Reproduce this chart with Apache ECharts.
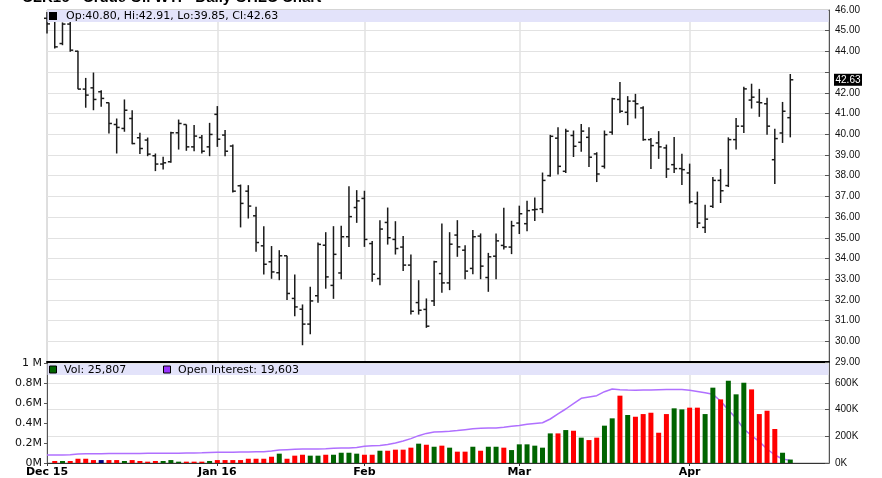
<!DOCTYPE html>
<html><head><meta charset="utf-8">
<script src="https://cdn.jsdelivr.net/npm/echarts@6/dist/echarts.min.js"></script>
<style>html,body{margin:0;padding:0;background:#fff}#c{width:882px;height:478px}</style>
</head><body><div id="c"></div><script>
const dates = [
'2015-12-01','2015-12-02','2015-12-03','2015-12-04','2015-12-07','2015-12-08','2015-12-09','2015-12-10','2015-12-11','2015-12-14','2015-12-15','2015-12-16','2015-12-17','2015-12-18','2015-12-21','2015-12-22','2015-12-23','2015-12-24','2015-12-28','2015-12-29','2015-12-30','2015-12-31',
'2016-01-04','2016-01-05','2016-01-06','2016-01-07','2016-01-08','2016-01-11','2016-01-12','2016-01-13','2016-01-14','2016-01-15','2016-01-19','2016-01-20','2016-01-21','2016-01-22','2016-01-25','2016-01-26','2016-01-27','2016-01-28','2016-01-29',
'2016-02-01','2016-02-02','2016-02-03','2016-02-04','2016-02-05','2016-02-08','2016-02-09','2016-02-10','2016-02-11','2016-02-12','2016-02-16','2016-02-17','2016-02-18','2016-02-19','2016-02-22','2016-02-23','2016-02-24','2016-02-25','2016-02-26','2016-02-29',
'2016-03-01','2016-03-02','2016-03-03','2016-03-04','2016-03-07','2016-03-08','2016-03-09','2016-03-10','2016-03-11','2016-03-14','2016-03-15','2016-03-16','2016-03-17','2016-03-18','2016-03-21','2016-03-22','2016-03-23','2016-03-24','2016-03-28','2016-03-29','2016-03-30','2016-03-31',
'2016-04-01','2016-04-04','2016-04-05','2016-04-06','2016-04-07','2016-04-08','2016-04-11','2016-04-12','2016-04-13','2016-04-14','2016-04-15','2016-04-18','2016-04-19','2016-04-20'];
const padDates = ['2016-04-21','2016-04-22','2016-04-25','2016-04-26','2016-04-27'];

const opens = [
45.6,45.5,44.38,45.32,44.01,42.18,42.24,42.05,41.52,40.47,40.28,40.76,39.83,39.72,38.96,38.56,38.67,40.07,40.47,39.39,39.84,39.39,
40.96,39.96,39.43,37.51,37.25,36.06,34.61,33.84,33.31,34.13,32.07,31.55,30.83,32.2,34.64,32.7,33.3,35.05,36.46,
36.9,34.72,33.03,35.74,34.92,34.55,33.68,31.87,31.54,31.95,33.27,32.82,35.13,34.4,33.52,35.08,33.08,34.11,34.63,34.55,
35.71,35.68,36.35,36.4,38.0,39.81,38.21,39.94,39.61,39.85,39.05,38.45,40.1,41.68,41.06,41.6,41.27,39.74,39.58,39.34,38.53,38.34,
38.13,36.65,35.5,36.52,37.77,37.52,39.74,40.39,41.65,41.55,41.47,38.77,40.06,40.80];
const highs = [
45.9,45.7,45.4,45.5,44.03,42.72,42.98,42.13,41.53,40.76,41.68,41.16,40.07,39.84,39.07,38.91,40.12,40.71,40.47,40.44,39.96,40.55,
41.36,40.2,39.51,37.57,37.54,36.5,35.56,34.6,34.4,34.13,33.23,31.78,32.63,34.77,35.27,35.56,35.58,37.49,37.3,
37.27,34.84,35.85,36.46,35.8,35.08,34.19,32.95,32.07,33.89,35.69,35.27,35.85,34.64,35.37,35.21,34.27,35.21,36.45,35.82,
36.55,36.79,36.95,38.15,39.97,40.34,40.27,40.18,40.5,40.34,39.13,40.18,41.76,42.52,41.84,41.95,41.35,39.82,40.15,39.5,39.87,39.06,
38.58,37.23,36.6,37.94,38.32,39.85,40.79,42.29,42.44,42.19,41.76,40.26,41.56,42.91];
const lows = [
44.87,44.14,44.3,43.98,42.17,41.28,41.16,41.33,40.04,39.07,40.12,39.52,39.04,38.94,38.22,38.3,38.62,39.26,39.2,39.18,39.07,38.94,
39.39,38.94,37.19,35.5,35.93,34.32,33.23,33.02,32.95,31.99,31.21,29.81,30.34,31.86,32.54,32.05,33.0,34.56,35.72,
34.56,32.87,32.71,34.67,34.19,33.39,31.29,31.29,30.65,31.71,32.34,32.47,34.08,33.0,33.24,33.0,32.39,33.0,34.43,34.21,
35.18,35.32,35.81,36.19,37.95,38.05,38.13,38.9,39.15,38.42,37.69,38.34,39.98,41.03,40.44,40.76,39.69,38.32,38.81,37.89,38.13,37.55,
36.65,35.47,35.23,36.44,36.68,37.45,39.26,40.06,41.24,40.84,39.98,37.6,39.58,39.85];
const closes = [
45.33,44.22,45.32,44.06,42.18,41.89,41.68,41.73,40.52,40.33,41.16,39.55,39.31,39.04,38.56,38.62,40.07,40.52,39.39,39.91,39.18,39.99,
39.76,39.18,37.25,36.66,36.53,34.77,33.72,33.35,34.13,32.31,31.66,30.83,31.95,34.68,33.11,34.2,35.05,36.02,36.78,
34.92,33.24,35.42,35.0,34.48,33.68,31.45,31.5,30.73,33.84,32.82,34.69,34.56,33.39,35.05,33.63,34.08,34.85,34.56,35.58,
36.16,36.31,36.37,37.77,39.9,38.45,40.15,39.42,40.15,38.89,38.08,39.98,41.71,41.11,41.6,41.47,39.74,39.45,39.39,38.32,38.34,38.29,
36.74,35.71,35.9,37.77,37.27,39.74,40.39,42.19,41.79,41.52,40.39,39.79,41.11,42.63];

const volumes = [
null,15000,15000,15000,32000,32000,22000,22000,22000,22000,15000,22000,15000,10000,15000,15000,22000,10000,10000,10000,10000,15000,
22000,22000,22000,22000,32000,32000,32000,47000,70000,32000,55000,62000,55000,55000,62000,62000,77000,77000,70000,
62000,62000,92000,92000,100000,100000,115000,145000,137000,122000,130000,115000,85000,85000,122000,92000,122000,122000,115000,97000,
140000,140000,130000,115000,222000,222000,247000,242000,190000,172000,190000,280000,335000,505000,360000,347000,367000,377000,227000,367000,410000,402000,
415000,415000,367000,565000,477000,617000,515000,602000,552000,367000,392000,255000,77000,25807];
const volDir = [
'd','d','u','d','d','d','d','n','d','d','u','d','d','d','d','u','u','u','d','d','d','u',
'd','d','d','d','d','d','d','d','u','d','d','d','u','u','d','u','u','u','u',
'd','d','u','d','d','d','d','u','d','u','d','u','d','d','u','d','u','u','d','u',
'u','u','u','u','u','d','u','d','u','d','d','u','u','d','u','d','d','d','d','d','u','u',
'd','d','u','u','d','u','u','u','d','d','d','d','u','u'];
const openInterest = [
60000,60000,60000,62000,67000,69000,70000,70000,71000,71000,72000,72000,72000,73000,73000,73000,74000,74000,75000,75000,76000,78000,
80000,80000,81000,82000,83000,84000,85000,90000,97000,100000,103000,105000,105000,105000,107000,110000,112000,113000,117000,
126000,130000,132000,138000,150000,165000,183000,205000,222000,232000,235000,238000,243000,250000,257000,260000,262000,263000,268000,275000,
282000,290000,297000,302000,330000,368000,405000,445000,485000,495000,505000,535000,555000,550000,547000,545000,547000,548000,550000,551000,552000,552000,
546000,537000,527000,515000,465000,397000,335000,255000,205000,160000,105000,60000,30000,19603];

const tickDates = ['2015-12-01','2016-01-04','2016-02-01','2016-03-01','2016-04-01'];
const tickLabels = ['Dec 15','Jan 16','Feb','Mar','Apr'];

const cats = dates.concat(padDates);
const last = dates.length - 1;
const dirColor = {u:'#006400', d:'#ff0000', n:'#000080'};
const isTick = (i, v) => tickDates.indexOf(v) >= 0;
const gridCol = '#e2e2e2';
const fnt = '"Liberation Sans", Arial, sans-serif';
const wfnt = '"DejaVu Sans", Verdana, sans-serif';

const chart = echarts.init(document.getElementById('c'), null, {renderer:'canvas'});
const ohlc = dates.map((d, i) => [i, opens[i], highs[i], lows[i], closes[i]]);

chart.setOption({
  animation: false,
  backgroundColor: '#fff',
  grid: [
    {left: 47, right: 53, top: 10, height: 352, show: true, borderColor: '#aaa', borderWidth: 1},
    {left: 47, right: 53, top: 363, height: 100, show: true, borderColor: '#aaa', borderWidth: 1}
  ],
  xAxis: [
    {type: 'category', gridIndex: 0, data: cats, boundaryGap: false,
     axisLine: {show: true, lineStyle: {color: '#000', width: 2}},
     axisTick: {show: false}, axisLabel: {show: false},
     splitLine: {show: true, interval: isTick, lineStyle: {color: gridCol, width: 1.5}}},
    {type: 'category', gridIndex: 1, data: cats, boundaryGap: false,
     axisLine: {show: true, lineStyle: {color: '#333', width: 1}},
     axisTick: {show: true, interval: isTick, length: 3, lineStyle: {color: '#333'}},
     axisLabel: {interval: isTick, formatter: v => tickLabels[tickDates.indexOf(v)] || '',
                 fontFamily: wfnt, fontWeight: 'bold', fontSize: 11, color: '#000', margin: 4},
     splitLine: {show: true, interval: isTick, lineStyle: {color: gridCol, width: 1.5}}}
  ],
  yAxis: [
    {type: 'value', gridIndex: 0, position: 'right', min: 29, max: 46, interval: 1,
     axisLine: {show: true, lineStyle: {color: '#555'}},
     axisTick: {show: true, inside: true, length: 4, lineStyle: {color: '#555'}},
     axisLabel: {formatter: v => (v === 43 ? '' : v.toFixed(2)), fontFamily: fnt, fontSize: 10, color: '#111', margin: 6},
     splitLine: {show: true, lineStyle: {color: gridCol, width: 1}}},
    {type: 'value', gridIndex: 1, position: 'right', min: 0, max: 750000, interval: 200000,
     axisLine: {show: true, lineStyle: {color: '#555'}},
     axisTick: {show: true, inside: true, length: 4, lineStyle: {color: '#555'}},
     axisLabel: {showMaxLabel: false, formatter: v => (v / 1000) + 'K', fontFamily: fnt, fontSize: 10, color: '#111', margin: 6},
     splitLine: {show: true, lineStyle: {color: gridCol, width: 1}}},
    {type: 'value', gridIndex: 1, position: 'left', min: 0, max: 1000000, interval: 200000,
     axisLine: {show: true, lineStyle: {color: '#555'}},
     axisTick: {show: true, length: 3, lineStyle: {color: '#555'}},
     axisLabel: {formatter: v => (v === 1000000 ? '1 M' : (v / 1000000) + 'M'), fontFamily: wfnt, fontSize: 11, color: '#111', margin: 5},
     splitLine: {show: false}}
  ],
  series: [
    {type: 'custom', xAxisIndex: 0, yAxisIndex: 0, data: ohlc, encode: {x: 0, y: [1, 2, 3, 4]}, z: 3,
     renderItem: function (params, api) {
       const i = api.value(0);
       const hi = api.coord([i, api.value(2)]);
       const lo = api.coord([i, api.value(3)]);
       const op = api.coord([i, api.value(1)]);
       const cl = api.coord([i, api.value(4)]);
       const st = {stroke: '#1a1a1a', lineWidth: 1.5};
       return {type: 'group', children: [
         {type: 'line', shape: {x1: hi[0], y1: hi[1], x2: lo[0], y2: lo[1]}, style: st},
         {type: 'line', shape: {x1: op[0] - 3, y1: op[1], x2: op[0], y2: op[1]}, style: st},
         {type: 'line', shape: {x1: cl[0], y1: cl[1], x2: cl[0] + 3, y2: cl[1]}, style: st}
       ]};
     }},
    {type: 'line', xAxisIndex: 1, yAxisIndex: 1, data: openInterest, showSymbol: false, z: 1,
     lineStyle: {color: '#b070ff', width: 1.5}},
    {type: 'bar', xAxisIndex: 1, yAxisIndex: 1, barWidth: 5, z: 2,
     data: volumes.map((v, i) => ({value: v, itemStyle: {color: dirColor[volDir[i]]}}))}
  ]
});

const lastY = chart.convertToPixel({yAxisIndex: 0}, closes[last]);
chart.setOption({
  graphic: [
    {type: 'text', x: 22, y: 5, z: 100, style: {text: 'CLK16 - Crude Oil WTI - Daily OHLC Chart', font: 'bold 15px ' + fnt, fill: '#000', verticalAlign: 'bottom'}},
    {type: 'rect', x: 47.5, y: 10, z: 100, shape: {width: 781, height: 12}, style: {fill: '#e3e3fa'}},
    {type: 'rect', x: 49, y: 12, z: 101, shape: {width: 8, height: 8}, style: {fill: '#000'}},
    {type: 'text', x: 66, y: 16.5, z: 101, style: {text: 'Op:' + opens[last].toFixed(2) + ', Hi:' + highs[last].toFixed(2) + ', Lo:' + lows[last].toFixed(2) + ', Cl:' + closes[last].toFixed(2), font: '11px ' + wfnt, fill: '#000', verticalAlign: 'middle'}},
    {type: 'rect', x: 47.5, y: 364, z: 100, shape: {width: 781, height: 11}, style: {fill: '#e3e3fa'}},
    {type: 'rect', x: 49.5, y: 366, z: 101, shape: {width: 7, height: 7}, style: {fill: '#006400', stroke: '#000', lineWidth: 1}},
    {type: 'text', x: 64, y: 370, z: 101, style: {text: 'Vol: ' + volumes[last].toLocaleString('en-US'), font: '11px ' + wfnt, fill: '#000', verticalAlign: 'middle'}},
    {type: 'rect', x: 163.5, y: 366, z: 101, shape: {width: 7, height: 7}, style: {fill: '#9933ff', stroke: '#000', lineWidth: 1}},
    {type: 'text', x: 178, y: 370, z: 101, style: {text: 'Open Interest: ' + openInterest[last].toLocaleString('en-US'), font: '11px ' + wfnt, fill: '#000', verticalAlign: 'middle'}},
    {type: 'rect', x: 834, y: lastY - 6, z: 101, shape: {width: 28, height: 12}, style: {fill: '#000'}},
    {type: 'text', x: 835.5, y: lastY, z: 102, style: {text: closes[last].toFixed(2), font: '10px ' + fnt, fill: '#fff', verticalAlign: 'middle'}}
  ]
});
</script></body></html>
